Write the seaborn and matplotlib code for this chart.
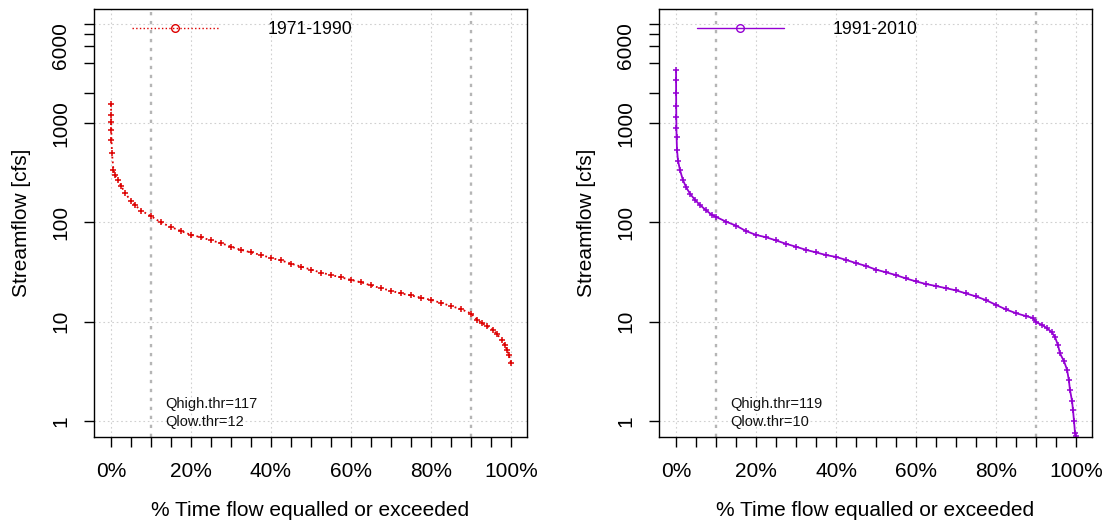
import matplotlib.pyplot as plt
import pandas as pd
import seaborn as sns
from matplotlib.lines import Line2D

# flow duration curve, 1971-1990
PCT_7190 = [0.01, 0.03, 0.05, 0.08, 0.12, 0.25, 0.6, 1.0, 1.8, 2.5, 3.5, 5, 6, 7.5,
            10, 12.5, 15, 17.5, 20, 22.5, 25, 27.5, 30, 32.5, 35, 37.5, 40, 42.5,
            45, 47.5, 50, 52.5, 55, 57.5, 60, 62.5, 65, 67.5, 70, 72.5, 75, 77.5,
            80, 82.5, 85, 87.5, 90, 91.5, 92.75, 94, 95.5, 96.5, 97.75, 98.5, 99,
            99.5, 100]
Q_7190 = [1560, 1210, 1030, 855, 680, 500, 340, 300, 268, 235, 198, 165, 150, 132,
          116, 100, 90, 82, 75, 71, 66, 62, 57, 53, 50, 47, 44, 41.5,
          38.5, 36, 33.5, 31.3, 29.6, 28, 26.4, 25, 23.2, 21.8, 20.5, 19.3, 18.4, 17.5,
          16.6, 15.5, 14.4, 13.4, 12.1, 10.5, 9.7, 9.0, 8.3, 7.5, 6.5, 5.8, 5.2,
          4.6, 3.8]

# flow duration curve, 1991-2010
PCT_9110 = [0.01, 0.02, 0.03, 0.05, 0.07, 0.1, 0.15, 0.25, 0.5, 1.0, 1.7, 2.5, 3.5,
            4.75, 6, 7.5, 9, 10, 12.5, 15, 17.5, 20, 22.5, 25, 27.5, 30, 32.5, 35,
            37.5, 40, 42.5, 45, 47.5, 50, 52.5, 55, 57.5, 60, 62.5, 65, 67.5, 70,
            72.5, 75, 77.5, 80, 82.5, 85, 87.5, 89.25, 90, 91.5, 92.75, 94, 94.75,
            95.5, 96, 97, 97.75, 98.2, 98.5, 99, 99.25, 99.5, 99.75, 100]
Q_9110 = [3440, 2700, 2020, 1500, 1160, 900, 727, 538, 420, 338, 270, 228, 195,
          169, 150, 133, 119, 114, 102, 93, 82, 75, 71, 66, 61, 57, 53, 50,
          47, 45, 42, 39, 36.5, 33.5, 31.5, 29.5, 27.3, 25.5, 24, 22.9, 21.8, 20.7,
          19.3, 18, 16.5, 14.8, 13.3, 12.2, 11.4, 10.9, 9.9, 9.3, 8.6, 7.8, 7.0,
          5.8, 4.8, 4.0, 3.3, 2.6, 2.05, 1.6, 1.29, 1.0, 0.76, 0.7]

PERIODS = ["1971-1990", "1991-2010"]
QHIGH = [117, 119]
QLOW = [12, 10]
COLORS = ["#dd0000", "#9400d3"]
STYLES = [":", "-"]

X_TICKS = list(range(0, 101, 5))
X_GRID = [0, 20, 40, 60, 80, 100]
Y_TICKS = [1, 10, 100, 1000, 2000, 4000, 6000, 8000, 10000]
Y_LABELED = [1, 10, 100, 1000, 6000]
Y_GRID = [1, 10, 100, 1000, 10000]

sns.set_theme(style="white")
plt.rcParams["font.family"] = ["Liberation Sans", "DejaVu Sans"]
plt.rcParams["text.color"] = "black"
plt.rcParams["axes.labelcolor"] = "black"
plt.rcParams["xtick.color"] = "black"
plt.rcParams["ytick.color"] = "black"


def draw_panel(ax, pct, q, period, qhigh, qlow, color, style):
    df = pd.DataFrame({"pct": pct, "q": q})
    ax.set_yscale("log")

    for v in X_GRID:
        ax.axvline(v, color="#d0d0d0", ls=(0, (1.5, 2.5)), lw=0.8, zorder=0)
    for v in Y_GRID:
        ax.axhline(v, color="#d0d0d0", ls=(0, (1.5, 2.5)), lw=0.8, zorder=0)
    for v in (10, 90):
        ax.axvline(v, color="#b5b5b5", ls=(0, (1.4, 2.4)), lw=1.7, zorder=0)

    sns.lineplot(data=df, x="pct", y="q", ax=ax, color=color, linestyle=style,
                 lw=1.3, marker="+", markersize=4.2, markeredgewidth=1.1,
                 markeredgecolor=color, estimator=None, sort=False, legend=False)

    handle = Line2D([], [], color=color, linestyle=style, lw=1, marker="o",
                    markerfacecolor="none", markeredgecolor=color, markersize=5.5)
    ax.legend(handles=[handle], labels=[period], loc="center left",
              bbox_to_anchor=(0.088, 0.951), frameon=False, handlelength=4.9,
              handletextpad=2.8, borderpad=0, borderaxespad=0, fontsize=12.7)

    ax.text(0.164, 0.077, f"Qhigh.thr={qhigh}", transform=ax.transAxes,
            fontsize=10.5, color="#111111", va="center", ha="left")
    ax.text(0.164, 0.035, f"Qlow.thr={qlow}", transform=ax.transAxes,
            fontsize=10.5, color="#111111", va="center", ha="left")

    ax.set_xlim(-4.25, 104.0)
    ax.set_ylim(0.69, 14160)
    ax.set_xticks(X_TICKS)
    ax.set_xticklabels([f"{v}%" if v % 20 == 0 else "" for v in X_TICKS])
    ax.set_yticks(Y_TICKS)
    ax.set_yticklabels([str(v) if v in Y_LABELED else "" for v in Y_TICKS])
    ax.yaxis.set_minor_locator(plt.NullLocator())
    ax.tick_params(axis="x", length=7.2, width=1, direction="out", labelsize=15,
                   pad=10.6, color="black", labelcolor="black", bottom=True)
    ax.tick_params(axis="y", length=7.2, width=1, direction="out", labelsize=15,
                   pad=10, color="black", labelcolor="black", left=True,
                   labelrotation=90)
    for lbl in ax.get_yticklabels():
        lbl.set_va("center")

    ax.set_xlabel("% Time flow equalled or exceeded", fontsize=15, va="center",
                  color="black")
    ax.set_ylabel("Streamflow [cfs]", fontsize=15, va="center", color="black")
    ax.xaxis.set_label_coords(0.5, -0.1706)
    ax.yaxis.set_label_coords(-0.168, 0.5)

    for sp in ax.spines.values():
        sp.set_color("black")
        sp.set_linewidth(1)


fig = plt.figure(figsize=(11.06, 5.25), dpi=100)
ax1 = fig.add_axes([94 / 1106, 88 / 525, 433 / 1106, 428 / 525])
ax2 = fig.add_axes([659 / 1106, 88 / 525, 433 / 1106, 428 / 525])

draw_panel(ax1, PCT_7190, Q_7190, PERIODS[0], QHIGH[0], QLOW[0], COLORS[0], STYLES[0])
draw_panel(ax2, PCT_9110, Q_9110, PERIODS[1], QHIGH[1], QLOW[1], COLORS[1], STYLES[1])

fig.savefig("out.png", dpi=100)
